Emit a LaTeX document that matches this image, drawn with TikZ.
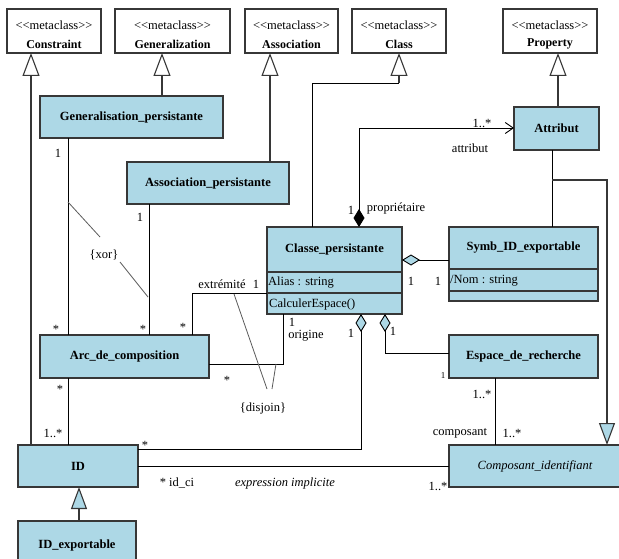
\documentclass[tikz,border=0pt]{standalone}
\usepackage{fontspec}
\setmainfont{Liberation Serif}
\usetikzlibrary{arrows.meta,calc}
\definecolor{clsblue}{RGB}{173,216,230}
\definecolor{edge}{RGB}{55,55,55}
\definecolor{cstr}{RGB}{90,90,90}
% guillemet-free stereotype brackets
\newcommand{\stereo}[1]{<\kern0pt<#1>\kern0pt>}

\begin{document}
\begin{tikzpicture}[x=1pt,y=-1pt,
  meta/.style={draw=edge, line width=1.1pt, fill=white, inner sep=0pt, outer sep=0pt,
    anchor=north west},
  cls/.style={draw=edge, line width=1.2pt, fill=clsblue, inner sep=0pt, outer sep=0pt,
    anchor=north west, font=\fontsize{12.5}{14}\selectfont\bfseries},
  ttl/.style={inner sep=0pt, font=\fontsize{12.5}{14}\selectfont\bfseries},
  attr/.style={inner sep=0pt, anchor=west, font=\fontsize{12.5}{14}\selectfont},
  lbl/.style={inner sep=0pt, font=\fontsize{12.5}{14}\selectfont},
  conn/.style={draw=black, line width=0.9pt},
  gconn/.style={draw=edge, line width=1.1pt},
  cline/.style={draw=cstr, line width=0.8pt},
  genw/.style={-{Triangle[length=23pt, width=17pt, fill=white]}},
  genb/.style={-{Triangle[length=22pt, width=16pt, fill=clsblue]}},
  aggr/.style={{Diamond[length=18pt, width=11pt, fill=clsblue]}-},
  compnav/.style={{Diamond[length=18pt, width=11pt, fill=black]}-{Straight Barb[length=8pt, width=11pt]}},
]
\useasboundingbox (0,0) rectangle (619,559);

% ---------- metaclasses ----------
\foreach \nm/\xa/\w/\txt in {mcConstraint/7/94/Constraint, mcGeneral/115/115/Generalization,
    mcAssoc/245/93/Association, mcClass/352/94/Class, mcProperty/503/94/Property}{
  \node[meta, minimum width=\w, minimum height=44] (\nm) at (\xa,9) {};
  \node[lbl] (\nm-st) at ($(\nm.north)+(0,16)$) {\stereo{metaclass}};
  \node[ttl, font=\fontsize{12}{14}\selectfont\bfseries] (\nm-nm) at ($(\nm.north)+(0,35)$) {\txt};
}

% ---------- persistent classes ----------
\node[cls, minimum width=183, minimum height=42] (genp) at (40,96) {Generalisation\_persistante};
\node[cls, minimum width=162, minimum height=42] (assocp) at (127,162) {Association\_persistante};
\node[cls, minimum width=85, minimum height=43] (attribut) at (514,107) {Attribut};

\node[cls, minimum width=135, minimum height=87] (classe) at (267,227) {};
\node[ttl] (classeT) at (334.5,249) {Classe\_persistante};
\draw[draw=edge, line width=1.2pt] (267,272) -- (402,272) (267,293) -- (402,293);
\node[attr] (classeA) at (268,282.5) {Alias : string};
\node[attr] (classeO) at (269,304) {CalculerEspace()};

\node[cls, minimum width=149, minimum height=74] (symb) at (449,227) {};
\node[ttl] (symbT) at (523.5,248) {Symb\_ID\_exportable};
\draw[draw=edge, line width=1.2pt] (449,269) -- (598,269) (449,291) -- (598,291);
\node[attr] (symbA) at (450,280.5) {/Nom : string};

\node[cls, minimum width=169, minimum height=43] (arc) at (40,335) {Arc\_de\_composition};
\node[cls, minimum width=149, minimum height=43] (espace) at (449,335) {Espace\_de\_recherche};
\node[cls, minimum width=120, minimum height=42] (id) at (18,445) {ID};
\node[cls, minimum width=176, minimum height=42] (compos) at (449,445) {};
\node[inner sep=0pt, font=\fontsize{12.5}{14}\selectfont\itshape] (composT) at (535,466) {Composant\_identifiant};
\node[cls, minimum width=118, minimum height=46] (idexp) at (18,521) {};
\node[ttl] (idexpT) at (77,545) {ID\_exportable};

% ---------- generalizations ----------
\draw[gconn, genw] (id.north -| 31,0) -- (mcConstraint.south -| 31,0);
\draw[gconn, genw] (genp.north -| 162,0) -- (mcGeneral.south -| 162,0);
\draw[gconn, genw] (assocp.north -| 270,0) -- (mcAssoc.south -| 270,0);
\draw[conn] (classe.north -| 312,0) -- (312,83) -- (399,83);
\draw[gconn, genw] (399,83) -- (mcClass.south -| 399,0);
\draw[gconn, genw] (attribut.north -| 558,0) -- (mcProperty.south -| 558,0);
\draw[gconn, genb] (idexp.north -| 79,0) -- (id.south -| 79,0);

\coordinate (branch) at (552,180);
\draw[conn] (attribut.south -| 552,0) -- (symb.north -| 552,0);
\draw[gconn, genb] (branch) -- (607,180) -- (compos.north -| 607,0);

% ---------- associations ----------
\draw[conn, compnav] (classe.north -| 359,0) -- (359,128) -- (attribut.west |- 0,128);
\draw[conn, aggr] (classe.east |- 0,260) -- (symb.west |- 0,260);
\draw[conn] (genp.south -| 68,0) -- (arc.north -| 68,0);
\draw[conn] (assocp.south -| 149,0) -- (arc.north -| 149,0);
\draw[conn] (arc.north -| 192,0) -- (192,293) -- (classe.west |- 0,293);
\draw[conn] (classe.south -| 283,0) -- (283,364) -- (arc.east |- 0,364);
\draw[conn] (arc.south -| 68,0) -- (id.north -| 68,0);
\draw[conn, aggr] (classe.south -| 361,0) -- (361,449) -- (id.east |- 0,449);
\draw[conn, aggr] (classe.south -| 385,0) -- (385,353) -- (espace.west |- 0,353);
\draw[conn] (espace.south -| 495,0) -- (compos.north -| 495,0);
\draw[conn] (id.east |- 0,466) -- (compos.west |- 0,466);

% ---------- constraints ----------
\node[lbl] (xor) at (104,255) {\{xor\}};
\draw[cline] (68,202) -- (100,237);
\draw[cline] (120,262) -- (148,297);
\node[lbl] (disjoin) at (263,408) {\{disjoin\}};
\coordinate (djA) at (234,294);
\coordinate (djB) at (276,364);
\draw[cline] (djA) -- (267,389);
\draw[cline] (djB) -- (272,389);

% ---------- role names and multiplicities ----------
\node[lbl] at (58,153) {1};
\node[lbl] at (140,217) {1};
\node[lbl] at (56,329) {*};
\node[lbl] at (143,329) {*};
\node[lbl] at (183,327) {*};
\node[lbl] at (222,284) {extrémité};
\node[lbl] at (256,284) {1};
\node[lbl] at (292,322) {1};
\node[lbl] at (306,336) {origine};
\node[lbl] at (227,380) {*};
\node[lbl] at (482,123) {1..*};
\node[lbl] at (470,148) {attribut};
\node[lbl] at (351,210) {1};
\node[lbl] at (396,208) {propriétaire};
\node[lbl] at (411,281) {1};
\node[lbl] at (438,281) {1};
\node[lbl] at (351,333) {1};
\node[lbl] at (393,331) {1};
\node[lbl, font=\fontsize{9}{10}\selectfont] at (443,376) {1};
\node[lbl] at (482,394) {1..*};
\node[lbl] at (460,433) {composant};
\node[lbl] at (512,433) {1..*};
\node[lbl] at (438,486) {1..*};
\node[lbl] at (177,483) {* id\_ci};
\node[lbl, font=\fontsize{12.5}{14}\selectfont\itshape] at (285,483) {expression implicite};
\node[lbl] at (145,445) {*};
\node[lbl] at (60,389) {*};
\node[lbl] at (53,433) {1..*};
\end{tikzpicture}
\end{document}
